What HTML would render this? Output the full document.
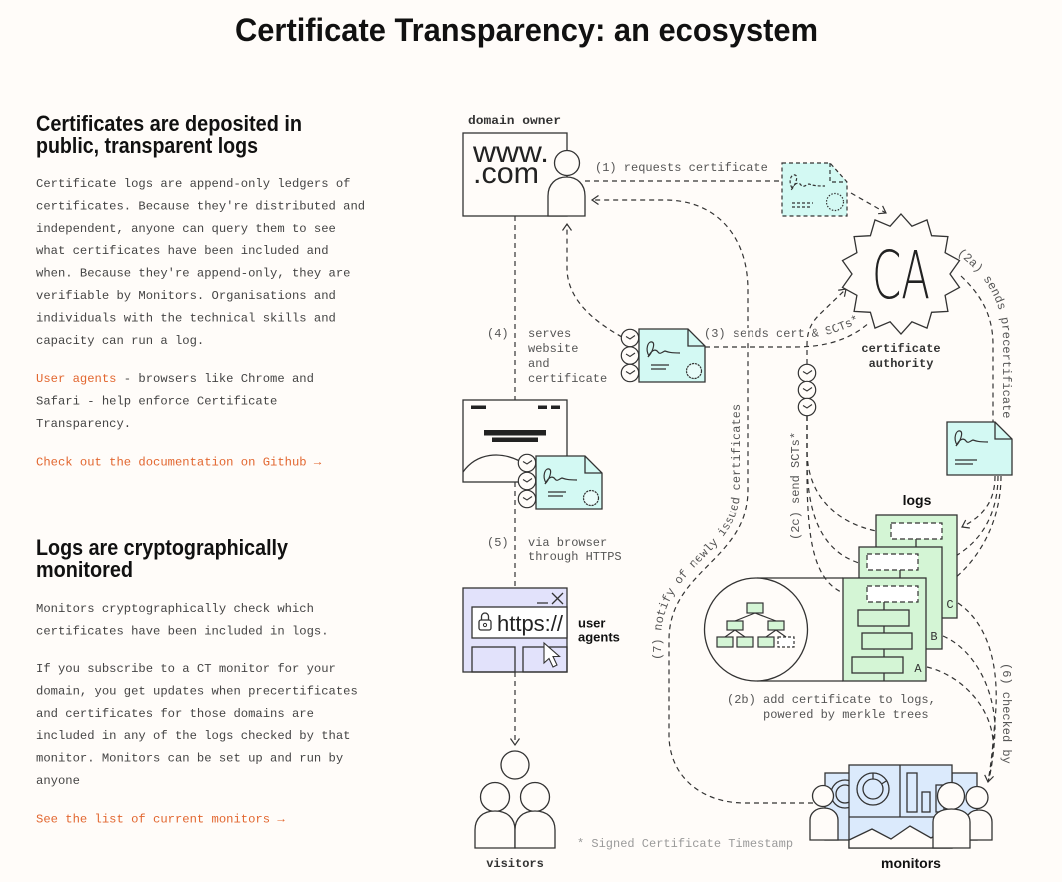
<!DOCTYPE html>
<html><head><meta charset="utf-8"><style>
html,body{margin:0;padding:0;background:#fffcf9;}
svg{display:block}
.p{font-family:"Liberation Mono",monospace;font-size:12.2px;fill:#444}
.or{fill:#e2662f}
.h{font-family:"Liberation Sans",sans-serif;font-weight:bold;font-size:22px;fill:#111}
.lb{font-family:"Liberation Mono",monospace;font-size:12px;fill:#555}
.bl{font-family:"Liberation Mono",monospace;font-size:12px;font-weight:bold;fill:#333}
.bs{font-family:"Liberation Sans",sans-serif;font-size:14px;font-weight:bold;fill:#111}
.d{fill:none;stroke:#333;stroke-width:1.2;stroke-dasharray:5 4}
.s{stroke:#333;stroke-width:1.3}
.halo{paint-order:stroke;stroke:#fffcf9;stroke-width:5px;stroke-linejoin:round}
</style></head><body>
<svg width="1062" height="882" viewBox="0 0 1062 882" xmlns="http://www.w3.org/2000/svg">
<defs>
<marker id="ah" markerUnits="userSpaceOnUse" markerWidth="14" markerHeight="14" viewBox="-8 -7 10 14" refX="0" refY="0" orient="auto">
<path d="M-6.5,-4.5 L0,0 L-6.5,4.5" fill="none" stroke="#333" stroke-width="1.2" stroke-dasharray="none"/>
</marker>
<g id="clk"><circle r="8.7" fill="#fffcf9" stroke="#333" stroke-width="1.2"/><path d="M-4,-1.5 L0,1 L5,-2.5" fill="none" stroke="#333" stroke-width="1.1"/></g>
<g id="cert">
<path d="M0,0 L49,0 L66,17 L66,53 L0,53 Z" fill="#d3f9f3" stroke="#333" stroke-width="1.3"/>
<path d="M49,0 L49,17 L66,17" fill="none" stroke="#333" stroke-width="1.3"/>
<path d="M10,27 C6,20 9,12 13,13 C17,14 13,24 9,28 C12,22 16,19 19,23 C21,26 23,23 26,22 C29,23 31,24 41,24" fill="none" stroke="#333" stroke-width="1.2"/>
<path d="M12,36 L30,36 M12,40 L27,40" stroke="#333" stroke-width="1.2"/>
<circle cx="55" cy="42" r="7.5" fill="#e8fcf9" stroke="#333" stroke-width="1.2" stroke-dasharray="2.2 0.8"/>
</g>
<path id="t3" d="M704,337 L812,337 Q838,335 866,318"/>
<path id="t2a" d="M957,254 C982,272 1003,298 1003,340 L1003,440"/>
<path id="t7" d="M661,660 L661,640 C661,565 740,555 740,490 L740,370"/>
</defs>

<!-- Title -->
<text x="235" y="41" font-family="'Liberation Sans',sans-serif" font-weight="bold" font-size="32" fill="#111" textLength="583" lengthAdjust="spacingAndGlyphs">Certificate Transparency: an ecosystem</text>

<!-- Left column -->
<text class="h" x="36" y="131" textLength="266" lengthAdjust="spacingAndGlyphs">Certificates are deposited in</text>
<text class="h" x="36" y="153" textLength="222" lengthAdjust="spacingAndGlyphs">public, transparent logs</text>
<text class="p" x="36" y="187">Certificate logs are append-only ledgers of</text>
<text class="p" x="36" y="209.4">certificates. Because they're distributed and</text>
<text class="p" x="36" y="231.8">independent, anyone can query them to see</text>
<text class="p" x="36" y="254.2">what certificates have been included and</text>
<text class="p" x="36" y="276.6">when. Because they're append-only, they are</text>
<text class="p" x="36" y="299">verifiable by Monitors. Organisations and</text>
<text class="p" x="36" y="321.4">individuals with the technical skills and</text>
<text class="p" x="36" y="343.8">capacity can run a log.</text>
<text class="p" x="36" y="382"><tspan class="or">User agents</tspan> - browsers like Chrome and</text>
<text class="p" x="36" y="404.4">Safari - help enforce Certificate</text>
<text class="p" x="36" y="426.8">Transparency.</text>
<text class="p or" x="36" y="465.5">Check out the documentation on Github →</text>

<text class="h" x="36" y="555" textLength="252" lengthAdjust="spacingAndGlyphs">Logs are cryptographically</text>
<text class="h" x="36" y="577" textLength="97" lengthAdjust="spacingAndGlyphs">monitored</text>
<text class="p" x="36" y="612">Monitors cryptographically check which</text>
<text class="p" x="36" y="634.4">certificates have been included in logs.</text>
<text class="p" x="36" y="672">If you subscribe to a CT monitor for your</text>
<text class="p" x="36" y="694.4">domain, you get updates when precertificates</text>
<text class="p" x="36" y="716.8">and certificates for those domains are</text>
<text class="p" x="36" y="739.2">included in any of the logs checked by that</text>
<text class="p" x="36" y="761.6">monitor. Monitors can be set up and run by</text>
<text class="p" x="36" y="784">anyone</text>
<text class="p or" x="36" y="822.5">See the list of current monitors →</text>

<!-- ===== Connectors ===== -->
<path class="d" d="M585,181 L782,181"/>
<text class="lb" x="595" y="171">(1) requests certificate</text>
<path class="d" d="M851,193 L886,213" marker-end="url(#ah)"/>
<path class="d" d="M813,803 L745,803 C700,803 669,775 669,735 L669,640 C669,570 748,560 748,490 L748,290 C748,235 715,200 665,200 L592,200" marker-end="url(#ah)"/>
<path class="d" d="M622,337 C595,322 567,300 567,268 L567,224" marker-end="url(#ah)"/>
<path class="d" d="M705,347 L795,347 C825,347 850,340 870,322"/>
<path class="d" d="M807,364 L807,345 C807,330 812,322 820,314 L846,289" marker-end="url(#ah)"/>
<path class="d" d="M807,416 L807,450 C807,495 835,522 876,531"/>
<path class="d" d="M807,416 L807,460 C807,520 825,552 859,563"/>
<path class="d" d="M807,416 L807,470 C807,545 815,580 843,593"/>
<path class="d" d="M961,276 C981,295 993,315 993,345 L993,422"/>
<path class="d" d="M995,476 C995,500 985,515 962,527" marker-end="url(#ah)"/>
<path class="d" d="M998,476 C998,515 980,545 948,560" marker-end="url(#ah)"/>
<path class="d" d="M1001,476 C1001,530 970,575 932,593" marker-end="url(#ah)"/>
<path class="d" d="M958,603 C990,625 1000,670 995,720 C993,745 991,765 988,782" marker-end="url(#ah)"/>
<path class="d" d="M943,636 C975,650 995,690 995,730 C994,755 991,770 988,782"/>
<path class="d" d="M927,667 C960,675 990,705 993,740 C993,760 991,772 988,782"/>
<path class="d" d="M515,216 L515,400"/>
<path class="d" d="M515,482 L515,588"/>
<path class="d" d="M515,672 L515,745" marker-end="url(#ah)"/>

<!-- Labels on connectors -->
<text class="lb halo"><textPath href="#t3">(3) sends cert &amp; SCTs*</textPath></text>
<text class="lb"><textPath href="#t2a">(2a) sends precertificate</textPath></text>
<text class="lb halo"><textPath href="#t7">(7) notify of newly issued certificates</textPath></text>
<text class="lb halo" transform="translate(799,540) rotate(-90)">(2c) send SCTs*</text>
<text class="lb" transform="translate(1003,663) rotate(90)">(6) checked by</text>
<text class="lb" x="487" y="337">(4)</text>
<text class="lb" x="528" y="337">serves</text>
<text class="lb" x="528" y="352">website</text>
<text class="lb" x="528" y="367">and</text>
<text class="lb" x="528" y="382">certificate</text>
<text class="lb" x="487" y="546">(5)</text>
<text class="lb" x="528" y="546">via browser</text>
<text class="lb" x="528" y="560">through HTTPS</text>
<text class="lb" x="727" y="703">(2b) add certificate to logs,</text>
<text class="lb" x="763" y="718">powered by merkle trees</text>
<text class="lb" x="577" y="847" style="fill:#9a9a9a">* Signed Certificate Timestamp</text>

<!-- ===== Domain owner ===== -->
<text class="bl" x="468" y="124" textLength="93" lengthAdjust="spacingAndGlyphs">domain owner</text>
<rect x="463" y="133" width="104" height="83" fill="#fffcf9" class="s"/>
<text x="473" y="162" font-family="'Liberation Sans',sans-serif" font-size="30" fill="#222" textLength="76" lengthAdjust="spacingAndGlyphs">www.</text>
<text x="473" y="183" font-family="'Liberation Sans',sans-serif" font-size="30" fill="#222" textLength="66" lengthAdjust="spacingAndGlyphs">.com</text>
<path d="M548,216 L548,196 C548,184 556,177 566.5,177 C577,177 585,184 585,196 L585,216 Z" fill="#fffcf9" class="s"/>
<circle cx="567" cy="163" r="12.5" fill="#fffcf9" class="s"/>

<!-- dashed precert -->
<g stroke="#333" stroke-width="1.2" stroke-dasharray="4 3">
<path d="M782,163 L830,163 L847,182 L847,216 L782,216 Z" fill="#d3f9f3"/>
<path d="M830,163 L830,182 L847,182" fill="none"/>
<path d="M792,188 C788,181 791,174 795,175 C799,176 795,186 791,190 C794,184 798,181 801,185 C803,188 806,185 809,184 C812,185 814,186 825,186" fill="none" stroke-dasharray="3 2"/>
<path d="M792,203 L813,203 M792,207 L810,207" fill="none" stroke-dasharray="3 2"/>
<circle cx="835" cy="202" r="8.5" fill="none" stroke-dasharray="1.5 1.5"/>
</g>

<!-- CA -->
<polygon points="901,214 911.9,226.2 927,219.9 931.6,235.7 947.9,236.6 945.1,252.7 959.5,260.6 950,274 959.5,287.4 945.1,295.3 947.9,311.4 931.6,312.3 927,328.1 911.9,321.8 901,334 890.1,321.8 875,328.1 870.4,312.3 854.1,311.4 856.9,295.3 842.5,287.4 852,274 842.5,260.6 856.9,252.7 854.1,236.6 870.4,235.7 875,219.9 890.1,226.2" fill="#fffcf9" class="s"/>
<text x="901" y="298" text-anchor="middle" font-family="'DejaVu Sans','Liberation Sans',sans-serif" font-weight="200" font-size="66" fill="#222" textLength="58" lengthAdjust="spacingAndGlyphs">CA</text>
<text class="bl" x="901" y="352" text-anchor="middle">certificate</text>
<text class="bl" x="901" y="367" text-anchor="middle">authority</text>

<!-- cert (3) with clocks -->
<use href="#clk" x="630" y="338"/>
<use href="#clk" x="630" y="355.5"/>
<use href="#clk" x="630" y="373"/>
<use href="#cert" x="639" y="329"/>

<!-- SCT clocks -->
<use href="#clk" x="807" y="373"/>
<use href="#clk" x="807" y="390"/>
<use href="#clk" x="807" y="407"/>

<!-- precert right -->
<path d="M947,422 L995,422 L1012,439 L1012,475 L947,475 Z" fill="#d3f9f3" class="s"/>
<path d="M995,422 L995,439 L1012,439" fill="none" class="s"/>
<path d="M957,445 C953,438 956,430 960,431 C964,432 960,442 956,446 C959,440 963,437 966,441 C968,444 970,441 973,440 C976,441 978,442 988,442" fill="none" stroke="#333" stroke-width="1.2"/>
<path d="M955,460 L977,460 M955,464 L973,464" stroke="#333" stroke-width="1.2"/>

<!-- website box -->
<rect x="463" y="400" width="104" height="82" fill="#fffcf9" class="s"/>
<rect x="471" y="405.5" width="15" height="3.5" fill="#222"/>
<rect x="538" y="405.5" width="9" height="3.5" fill="#222"/>
<rect x="551" y="405.5" width="9" height="3.5" fill="#222"/>
<rect x="484" y="430" width="62" height="5.5" fill="#222"/>
<rect x="492" y="437.5" width="46" height="4.5" fill="#222"/>
<path d="M463,472 C475,455 500,447 528,466" fill="none" class="s"/>
<use href="#clk" x="527" y="463"/>
<use href="#clk" x="527" y="481"/>
<use href="#clk" x="527" y="499"/>
<use href="#cert" x="536" y="456"/>

<!-- user agent browser -->
<rect x="463" y="588" width="104" height="84" fill="#e2e2fb" class="s"/>
<path d="M537,603 L548,603 M552,593 L563,604 M563,593 L552,604" class="s" fill="none"/>
<rect x="472" y="607" width="95" height="31" fill="#ffffff" class="s"/>
<rect x="479" y="620" width="12" height="10" rx="2" fill="none" class="s"/>
<path d="M481.5,620 L481.5,616.5 A3.5,3.5 0 0 1 488.5,616.5 L488.5,620" fill="none" class="s"/>
<circle cx="485" cy="625" r="1.6" fill="none" stroke="#333" stroke-width="1"/>
<text x="497" y="631" font-family="'Liberation Sans',sans-serif" font-size="22" fill="#222" textLength="66" lengthAdjust="spacingAndGlyphs">https://</text>
<rect x="472" y="647" width="43" height="25" fill="none" class="s"/>
<rect x="523" y="647" width="44" height="25" fill="none" class="s"/>
<path d="M544,643 L544,663 L549,658.5 L553,667 L557,665 L553,656.5 L559.5,656.5 Z" fill="#fff" stroke="#333" stroke-width="1.1"/>
<text class="bs" x="578" y="627.5" style="font-size:13px">user</text>
<text class="bs" x="578" y="641.5" style="font-size:13px">agents</text>

<!-- visitors -->
<circle cx="515" cy="765" r="14" fill="#fffcf9" class="s"/>
<circle cx="495" cy="797" r="14.5" fill="#fffcf9" class="s"/>
<circle cx="535" cy="797" r="14.5" fill="#fffcf9" class="s"/>
<path d="M475,848 L475,830 C475,818 483,811 495,811 C507,811 515,818 515,830 L515,848 Z" fill="#fffcf9" class="s"/>
<path d="M515,848 L515,830 C515,818 523,811 535,811 C547,811 555,818 555,830 L555,848 Z" fill="#fffcf9" class="s"/>
<text class="bl" x="515" y="867" text-anchor="middle">visitors</text>

<!-- logs -->
<text class="bs" x="917" y="505" text-anchor="middle">logs</text>
<g>
<rect x="876" y="515" width="81" height="103" fill="#d4f5d5" class="s"/>
<rect x="891" y="523" width="51" height="16" fill="#fff" stroke="#333" stroke-width="1.2" stroke-dasharray="5 3"/>
<line x1="916" y1="539" x2="916" y2="547" class="s"/>
<text x="950" y="608" class="lb" style="fill:#333" text-anchor="middle">C</text>
<rect x="859" y="547" width="83" height="102" fill="#d4f5d5" class="s"/>
<rect x="867" y="554" width="51" height="16" fill="#fff" stroke="#333" stroke-width="1.2" stroke-dasharray="5 3"/>
<line x1="900" y1="570" x2="900" y2="578" class="s"/>
<text x="934" y="640" class="lb" style="fill:#333" text-anchor="middle">B</text>
<rect x="843" y="578" width="83" height="103" fill="#d4f5d5" class="s"/>
<line x1="884" y1="602" x2="884" y2="681" class="s"/>
<rect x="867" y="586" width="51" height="16" fill="#fff" stroke="#333" stroke-width="1.2" stroke-dasharray="5 3"/>
<rect x="858" y="610" width="51" height="16" fill="#d4f5d5" class="s"/>
<rect x="862" y="633" width="50" height="16" fill="#d4f5d5" class="s"/>
<rect x="852" y="657" width="51" height="16" fill="#d4f5d5" class="s"/>
<text x="918" y="672" class="lb" style="fill:#333" text-anchor="middle">A</text>
</g>
<!-- magnifier -->
<path d="M757,578 L843,578 M757,681 L843,681" class="s" fill="none"/>
<circle cx="756" cy="629.5" r="51.5" fill="#fffcf9" class="s"/>
<g fill="#d4f5d5" stroke="#333" stroke-width="1.2">
<path d="M755,613 L735,621 M755,613 L776,621 M735,630 L725,637 M735,630 L745,637 M776,630 L766,637 M776,630 L786,637" fill="none"/>
<rect x="747" y="603" width="16" height="10"/>
<rect x="727" y="621" width="16" height="9"/>
<rect x="768" y="621" width="16" height="9"/>
<rect x="717" y="637" width="16" height="10"/>
<rect x="737" y="637" width="16" height="10"/>
<rect x="758" y="637" width="16" height="10"/>
<rect x="778" y="637" width="16" height="10" fill="#fff" stroke-dasharray="3 2"/>
</g>

<!-- monitors -->
<g stroke="#333" stroke-width="1.3">
<rect x="825" y="773" width="30" height="67" fill="#dbeafc"/>
<circle cx="845" cy="794" r="14" fill="none"/>
<circle cx="845" cy="794" r="9" fill="none"/>
<rect x="952" y="773" width="25" height="67" fill="#dbeafc"/>
<rect x="849" y="765" width="103" height="83" fill="#dbeafc"/>
<path d="M849,840 L872,829 L891,839 L910,826 L931,838 L952,826 L952,848 L849,848 Z" fill="#fffcf9"/>
<line x1="849" y1="817" x2="952" y2="817"/>
<line x1="900" y1="765" x2="900" y2="817"/>
<circle cx="873" cy="789" r="16" fill="none"/>
<circle cx="873" cy="789" r="10" fill="none"/>
<path d="M873,779 L873,773 M881.5,784 L887,780.5" fill="none"/>
<rect x="907" y="773" width="10" height="39" fill="#dbeafc"/>
<rect x="922" y="792" width="8" height="20" fill="#dbeafc"/>
<rect x="936" y="785" width="8" height="27" fill="#dbeafc"/>
<circle cx="823" cy="796" r="10.5" fill="#fffcf9"/>
<path d="M810,840 L810,820 C810,813 816,808 824,808 C832,808 838,813 838,820 L838,840 Z" fill="#fffcf9"/>
<circle cx="977" cy="797.5" r="11" fill="#fffcf9"/>
<path d="M966,840 L966,822 C966,815 971,810 979,810 C987,810 992,815 992,822 L992,840 Z" fill="#fffcf9"/>
<circle cx="951" cy="796" r="13.5" fill="#fffcf9"/>
<path d="M933,848 L933,822 C933,814 940,809 951.5,809 C963,809 970,814 970,822 L970,848 Z" fill="#fffcf9"/>
</g>
<text class="bs" x="911" y="868" text-anchor="middle">monitors</text>
</svg>
</body></html>
